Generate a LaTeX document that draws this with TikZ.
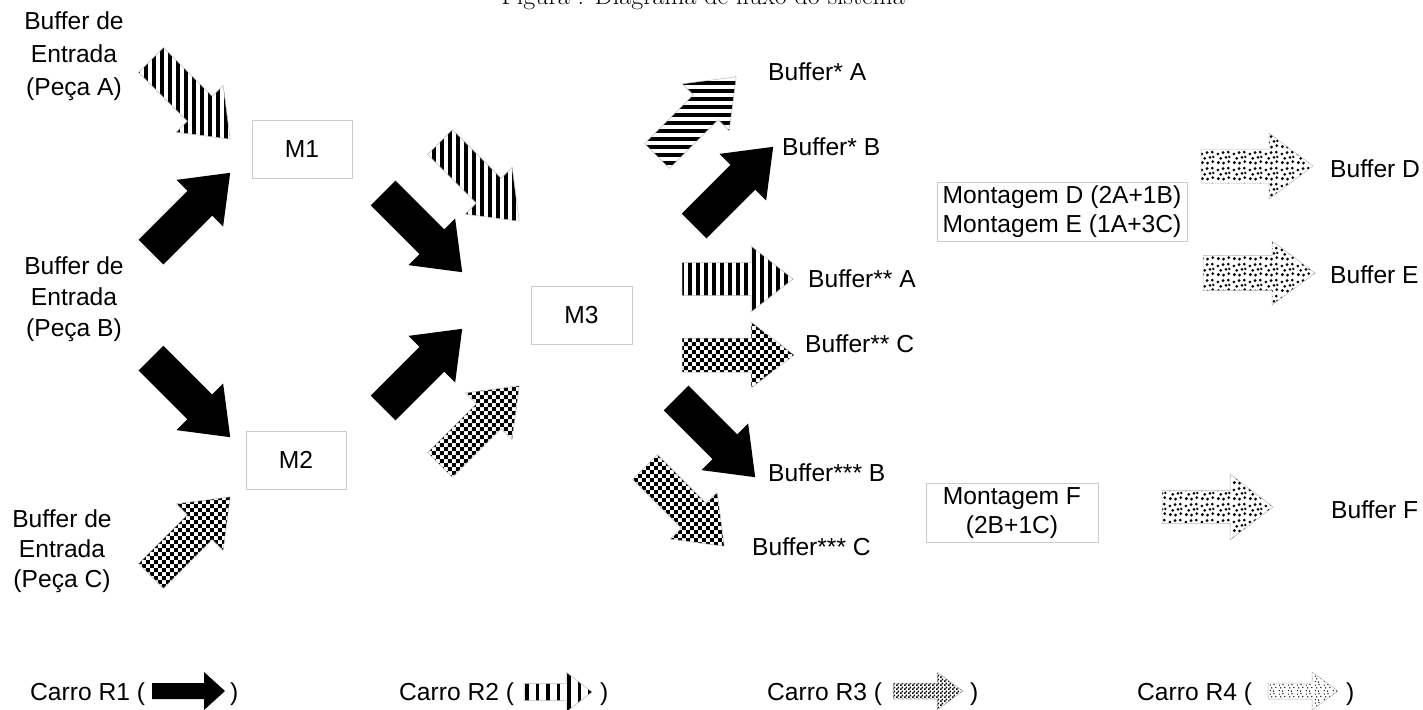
\documentclass[tikz,border=0pt]{standalone}
\usepackage{fontspec}
\newfontfamily\arialish{Liberation Sans}
\usetikzlibrary{patterns}

% fill patterns for the transport cars (cells overlap slightly to avoid seams)
\pgfdeclarepatternformonly{vstripes}{\pgfpoint{0pt}{-1pt}}{\pgfpoint{8pt}{9pt}}{\pgfpoint{8pt}{8pt}}{%
  \pgfpathrectangle{\pgfpoint{0pt}{-1pt}}{\pgfpoint{4.2pt}{10pt}}\pgfusepath{fill}}
\pgfdeclarepatternformonly{hstripes}{\pgfpoint{-1pt}{0pt}}{\pgfpoint{9pt}{8pt}}{\pgfpoint{8pt}{8pt}}{%
  \pgfpathrectangle{\pgfpoint{-1pt}{0pt}}{\pgfpoint{10pt}{4.2pt}}\pgfusepath{fill}}
\pgfdeclarepatternformonly{checker}{\pgfpointorigin}{\pgfpoint{8.4pt}{8.4pt}}{\pgfpoint{8.4pt}{8.4pt}}{%
  \pgfpathrectangle{\pgfpointorigin}{\pgfpoint{4.2pt}{4.2pt}}%
  \pgfpathrectangle{\pgfpoint{4.2pt}{4.2pt}}{\pgfpoint{4.2pt}{4.2pt}}\pgfusepath{fill}}
\pgfdeclarepatternformonly{speckle}{\pgfpointorigin}{\pgfpoint{16pt}{16pt}}{\pgfpoint{16pt}{16pt}}{%
  \pgfpathcircle{\pgfpoint{2.5pt}{2.5pt}}{1.6pt}%
  \pgfpathcircle{\pgfpoint{8pt}{2pt}}{1.6pt}%
  \pgfpathcircle{\pgfpoint{13.5pt}{3.5pt}}{1.6pt}%
  \pgfpathcircle{\pgfpoint{5pt}{7pt}}{1.6pt}%
  \pgfpathcircle{\pgfpoint{10.5pt}{8pt}}{1.6pt}%
  \pgfpathcircle{\pgfpoint{2pt}{11.5pt}}{1.6pt}%
  \pgfpathcircle{\pgfpoint{7.5pt}{13pt}}{1.6pt}%
  \pgfpathcircle{\pgfpoint{13pt}{13.5pt}}{1.6pt}%
  \pgfpathcircle{\pgfpoint{14pt}{8.5pt}}{1.4pt}%
  \pgfusepath{fill}}
% finer variants for the legend
\pgfdeclarepatternformonly{vstripeswide}{\pgfpoint{0pt}{-1pt}}{\pgfpoint{10.5pt}{11.5pt}}{\pgfpoint{10.5pt}{10.5pt}}{%
  \pgfpathrectangle{\pgfpoint{0pt}{-1pt}}{\pgfpoint{3.8pt}{12.5pt}}\pgfusepath{fill}}
\pgfdeclarepatternformonly{checkersmall}{\pgfpointorigin}{\pgfpoint{4pt}{4pt}}{\pgfpoint{4pt}{4pt}}{%
  \pgfpathrectangle{\pgfpointorigin}{\pgfpoint{2pt}{2pt}}%
  \pgfpathrectangle{\pgfpoint{2pt}{2pt}}{\pgfpoint{2pt}{2pt}}\pgfusepath{fill}}
\pgfdeclarepatternformonly{specklesmall}{\pgfpointorigin}{\pgfpoint{9pt}{9pt}}{\pgfpoint{9pt}{9pt}}{%
  \pgfpathcircle{\pgfpoint{1.5pt}{1.5pt}}{0.8pt}%
  \pgfpathcircle{\pgfpoint{5pt}{1pt}}{0.8pt}%
  \pgfpathcircle{\pgfpoint{3pt}{4.5pt}}{0.8pt}%
  \pgfpathcircle{\pgfpoint{7.5pt}{5pt}}{0.8pt}%
  \pgfpathcircle{\pgfpoint{1.5pt}{7.5pt}}{0.8pt}%
  \pgfpathcircle{\pgfpoint{5.5pt}{8pt}}{0.8pt}%
  \pgfusepath{fill}}

% block arrow: style, tail x, tail y, angle, length, shaft width, head width, head length
\newcommand{\blockarrow}[8]{%
  \path[#1, shift={(#2,#3)}, rotate=#4]
    (0,{-#6/2}) -- ({#5-#8},{-#6/2}) -- ({#5-#8},{-#7/2}) -- (#5,0)
    -- ({#5-#8},{#7/2}) -- ({#5-#8},{#6/2}) -- (0,{#6/2}) -- cycle;}

\tikzset{
  blackarrow/.style={fill=black},
  patarrow/.style={draw=gray!55, line width=0.5pt, pattern=#1},
  word/.style={font=\arialish\fontsize{24.6}{29}\selectfont, inner sep=0pt},
  machine/.style={word, draw=gray!40, line width=0.8pt, minimum width=100pt, minimum height=58pt},
  assembly/.style={word, draw=gray!40, line width=0.8pt, align=center},
}

\begin{document}
\begin{tikzpicture}[x=1pt,y=-1pt]
\useasboundingbox (0,0) rectangle (1423,709);

% caption
\node[font=\fontsize{26}{31}\selectfont, anchor=base, inner sep=0pt] (title) at (703,4.5)
  {Figura : Diagrama de fluxo do sistema};

% input buffers
\node[word, align=center, font=\arialish\fontsize{24.6}{33}\selectfont] (inA) at (74,56) {Buffer de\\Entrada\\(Peça A)};
\node[word, align=center, font=\arialish\fontsize{24.6}{31}\selectfont] (inB) at (74,299) {Buffer de\\Entrada\\(Peça B)};
\node[word, align=center, font=\arialish\fontsize{24.6}{30}\selectfont] (inC) at (62,551) {Buffer de\\Entrada\\(Peça C)};

% machines
\node[machine] (M1) at (302,149) {M1};
\node[machine] (M2) at (296,460) {M2};
\node[machine, minimum width=101pt] (M3) at (581.5,315) {M3};

% assembly stations
\node[assembly, minimum width=250pt, minimum height=59pt] (MDE) at (1062,211.5)
  {Montagem D (2A+1B)\\Montagem E (1A+3C)};
\node[assembly, minimum width=172pt, minimum height=59pt] (MF) at (1012,513)
  {Montagem F\\(2B+1C)};

% intermediate and output buffers
\node[word, anchor=west] (bsA) at (768,72) {Buffer* A};
\node[word, anchor=west] (bsB) at (782,147) {Buffer* B};
\node[word, anchor=west] (bssA) at (808,279) {Buffer** A};
\node[word, anchor=west] (bssC) at (805,344) {Buffer** C};
\node[word, anchor=west] (bsssB) at (768,473) {Buffer*** B};
\node[word, anchor=west] (bsssC) at (752,547) {Buffer*** C};
\node[word, anchor=west] (bD) at (1330,169) {Buffer D};
\node[word, anchor=west] (bE) at (1330,275) {Buffer E};
\node[word, anchor=west] (bF) at (1331,510) {Buffer F};

% cars into M1 and M2
\blockarrow{patarrow=vstripes}{151}{60}{-45}{112}{35}{66}{43}
\blockarrow{blackarrow}{151}{252}{45}{112}{35}{66}{43}
\blockarrow{blackarrow}{151}{358}{-45}{112}{35}{66}{43}
\blockarrow{patarrow=checker}{151}{576}{45}{112}{35}{66}{43}

% cars into M3
\blockarrow{blackarrow}{383}{193}{-45}{112}{35}{66}{43}
\blockarrow{patarrow=vstripes}{440}{142}{-45}{112}{35}{66}{43}
\blockarrow{blackarrow}{383}{408}{45}{112}{35}{66}{43}
\blockarrow{patarrow=checker}{440}{465}{45}{112}{35}{66}{43}

% cars out of M3
\blockarrow{patarrow=hstripes}{657}{156}{45}{112}{35}{66}{43}
\blockarrow{blackarrow}{694}{226}{45}{112}{35}{66}{43}
\blockarrow{patarrow=vstripes}{682}{279}{0}{111}{33}{66}{42}
\blockarrow{patarrow=checker}{682}{355}{0}{112}{34}{66}{43}
\blockarrow{blackarrow}{676}{398}{-45}{112}{35}{66}{43}
\blockarrow{patarrow=checker}{645}{467}{-45}{112}{35}{66}{43}

% cars out of the assembly stations
\blockarrow{patarrow=speckle}{1201}{166}{0}{112}{34}{66}{44}
\blockarrow{patarrow=speckle}{1203}{273}{0}{112}{35}{64}{43}
\blockarrow{patarrow=speckle}{1162}{507}{0}{111}{33}{66}{43}

% legend
\node[word, anchor=base west] (lR1) at (30,700) {Carro R1 (};
\blockarrow{blackarrow}{152}{691}{0}{73}{16}{38}{21}
\node[word, anchor=base west] (lR1c) at (230,700) {)};

\node[word, anchor=base west] (lR2) at (399,700) {Carro R2 (};
\blockarrow{patarrow=vstripeswide}{524}{692}{0}{68}{17}{40}{26}
\node[word, anchor=base west] (lR2c) at (600,700) {)};

\node[word, anchor=base west] (lR3) at (767,700) {Carro R3 (};
\blockarrow{patarrow=checkersmall}{893}{691}{0}{70}{16}{38}{26}
\node[word, anchor=base west] (lR3c) at (970,700) {)};

\node[word, anchor=base west] (lR4) at (1137,700) {Carro R4 (};
\blockarrow{patarrow=specklesmall}{1268}{691}{0}{70}{16}{38}{26}
\node[word, anchor=base west] (lR4c) at (1346,700) {)};
\end{tikzpicture}
\end{document}
